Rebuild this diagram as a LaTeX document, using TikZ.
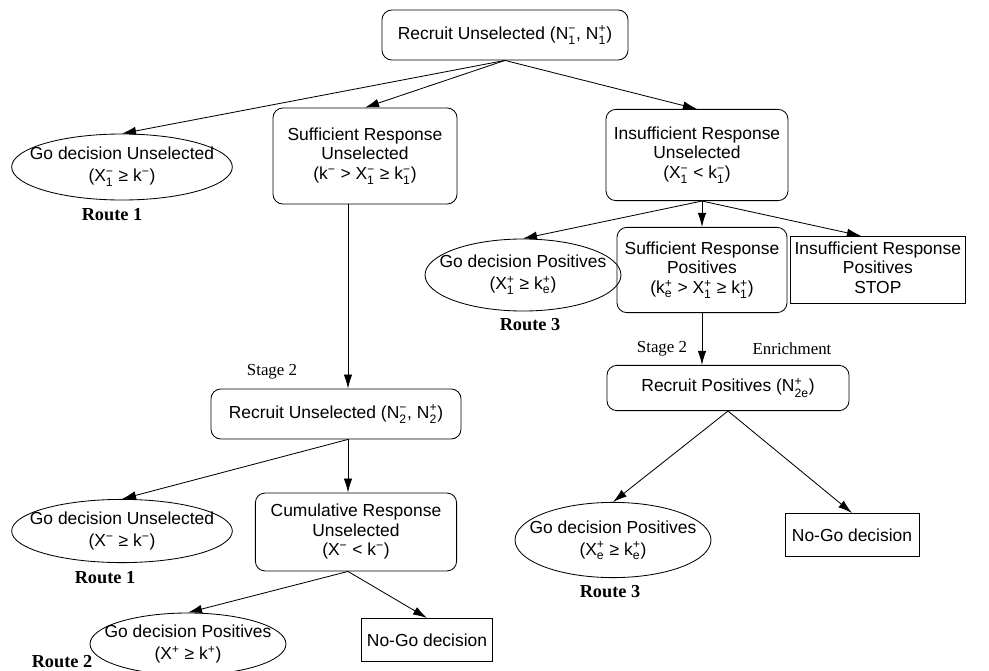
\documentclass[tikz,border=0pt]{standalone}
\usepackage{fontspec}
\usepackage{amsmath}
\setmainfont{Liberation Sans}
\newfontfamily\serifrm{Liberation Serif}
\usetikzlibrary{shapes.geometric,arrows.meta}
\newcommand{\sps}[2]{\ensuremath{{}_{\text{#1}}^{\text{#2}}}}

\begin{document}
\begin{tikzpicture}[
    x=0.025cm, y=-0.025cm, line width=0.6pt,
    every node/.style={font=\fontsize{12.4}{14}\selectfont},
    stagebox/.style={rectangle, draw, rounded corners=7pt, align=center, inner sep=2pt},
    godec/.style={ellipse, draw, align=center, inner xsep=-10pt, inner ysep=0pt, font=\fontsize{12.4}{15.5}\selectfont},
    stopbox/.style={rectangle, draw, inner sep=3pt},
    route/.style={font=\serifrm\bfseries\fontsize{13}{15}\selectfont},
    note/.style={font=\serifrm\fontsize{12}{14}\selectfont},
    link/.style={-{Latex[length=10pt,width=6pt]}, line width=0.6pt}
]
\useasboundingbox (0,0) rectangle (989,671);

% Stage 1
\node[stagebox, minimum width=6.15cm, minimum height=1.25cm] (rec1) at (505,35) {Recruit Unselected (N\sps{1}{−}, N\sps{1}{+})};
\node[godec, minimum height=1.65cm] (goU1) at (122,167) {Go decision Unselected\\(X\sps{1}{−} ≥ k\sps{}{−})};
\node[stagebox, minimum width=4.6cm, minimum height=2.4cm] (sufU) at (365,156) {Sufficient Response\\Unselected\\(k\sps{}{−} > X\sps{1}{−} ≥ k\sps{1}{−})};
\node[stagebox, minimum width=4.55cm, minimum height=2.28cm] (insU) at (697,155) {Insufficient Response\\Unselected\\(X\sps{1}{−} < k\sps{1}{−})};
\node[godec, minimum height=1.8cm] (goP1) at (523,275) {Go decision Positives\\(X\sps{1}{+} ≥ k\sps{e}{+})};
\node[stagebox, minimum width=4.25cm, minimum height=2.13cm] (sufP) at (702,270) {Sufficient Response\\Positives\\(k\sps{e}{+} > X\sps{1}{+} ≥ k\sps{1}{+})};
\node[stopbox, anchor=west, minimum height=1.68cm] (stopP) at (790,270) {\begin{tabular}{@{}c@{}}Insufficient Response\\Positives\\STOP\end{tabular}\hspace{2cm}};
\node[route] (rt1a) at (112,215) {Route 1};
\node[route] (rt3a) at (530,325) {Route 3};

% Stage 2, unselected
\node[note] (st2a) at (272,372) {Stage 2};
\node[stagebox, minimum width=6.25cm, minimum height=1.25cm] (rec2) at (336,414) {Recruit Unselected (N\sps{2}{−}, N\sps{2}{+})};
\node[godec, minimum height=1.58cm] (goU2) at (122,531) {Go decision Unselected\\(X\sps{}{−} ≥ k\sps{}{−})};
\node[stagebox, minimum width=5.03cm, minimum height=1.95cm] (cumU) at (356,532) {Cumulative Response\\Unselected\\(X\sps{}{−} < k\sps{}{−})};
\node[godec, minimum height=1.55cm] (goP3) at (188,644) {Go decision Positives\\(X$^{\text{+}}$ ≥ k$^{\text{+}}$)};
\node[stopbox, minimum width=3.28cm, minimum height=1.08cm] (nogo1) at (427,640) {No-Go decision};
\node[route] (rt1b) at (105,578) {Route 1};
\node[route] (rt2) at (62,662) {Route 2};

% Stage 2, enrichment
\node[note] (st2b) at (662,349) {Stage 2};
\node[note] (enr) at (792,349) {Enrichment};
\node[stagebox, minimum width=6.05cm, minimum height=1.13cm] (recP) at (728,388) {Recruit Positives (N\sps{2e}{+})};
\node[godec, minimum height=1.88cm] (goP2) at (613,540) {Go decision Positives\\(X\sps{e}{+} ≥ k\sps{e}{+})};
\node[stopbox, minimum width=3.35cm, minimum height=1.08cm] (nogo2) at (852,535) {No-Go decision};
\node[route] (rt3b) at (610,592) {Route 3};

% Connexions
\coordinate (xl) at (348,0);
\coordinate (xr) at (702,0);
\draw[link] (rec1.south) -- (goU1.north);
\draw[link] (rec1.south) -- (sufU.north);
\draw[link] (rec1.south) -- (insU.north);
\draw[link] (insU.south -| xr) -- (goP1.north);
\draw[link] (insU.south -| xr) -- (sufP.north);
\draw[link] (insU.south -| xr) -- ([xshift=-12pt]stopP.north);
\draw[link] (sufU.south -| xl) -- (rec2.north -| xl);
\draw[link] (rec2.south -| xl) -- (goU2.north);
\draw[link] (rec2.south -| xl) -- (cumU.north -| xl);
\draw[link] (cumU.south -| xl) -- (goP3.north);
\draw[link] (cumU.south -| xl) -- (nogo1.north);
\draw[link] (sufP.south) -- (recP.north -| xr);
\draw[link] (recP.south) -- (goP2.north);
\draw[link] (recP.south) -- (nogo2.north);

\end{tikzpicture}
\end{document}
